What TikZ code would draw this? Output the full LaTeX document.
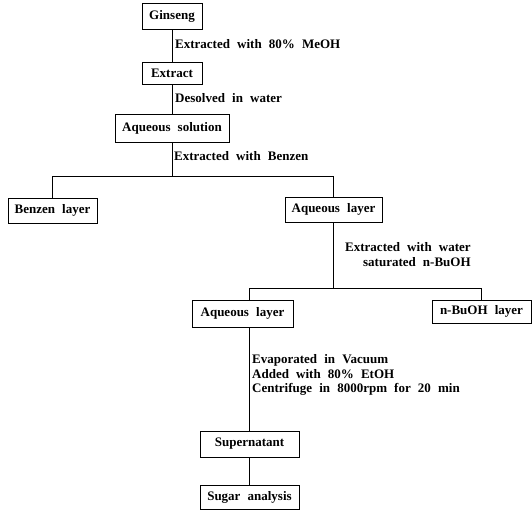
\documentclass[tikz,border=0pt]{standalone}
\usepackage{fontspec}
\setmainfont[WordSpace=2.2]{Liberation Serif}
\begin{document}
\begin{tikzpicture}[x=1pt,y=-1pt,
  txt/.style={font=\bfseries\fontsize{13}{14.5}\selectfont},
  box/.style={draw, line width=0.8pt, inner sep=0pt, txt},
  lbl/.style={inner sep=0pt, anchor=west, txt},
  conn/.style={line width=0.8pt}]
\useasboundingbox (0,0) rectangle (532,510);
\node[box, minimum width=60pt, minimum height=26pt] (gin) at (172,16) {Ginseng};
\node[box, minimum width=60pt, minimum height=22pt] (ext) at (172,73.5) {Extract};
\node[box, minimum width=114pt, minimum height=28pt] (aqs) at (172,128) {Aqueous solution};
\node[box, minimum width=89pt, minimum height=25pt] (ben) at (52.5,210.5) {Benzen layer};
\node[box, minimum width=97pt, minimum height=25pt] (aqa) at (333.5,209.5) {Aqueous layer};
\node[box, minimum width=101pt, minimum height=27pt] (aqb) at (242.5,313.5) {Aqueous layer};
\node[box, minimum width=99pt, minimum height=23pt] (bu) at (481.5,311.5) {n-BuOH layer};
\node[box, minimum width=99pt, minimum height=26pt] (sup) at (249.5,444) {Supernatant};
\node[box, minimum width=99pt, minimum height=24pt] (sug) at (249.5,497) {Sugar analysis};
\coordinate (sa) at (172,176);
\coordinate (sb) at (248,288);
\draw[conn] (gin) -- (ext);
\draw[conn] (ext) -- (aqs);
\draw[conn] (aqs.south) -- (sa);
\draw[conn] (ben.north) -- (ben.north |- sa) -- (aqa.north |- sa) -- (aqa.north);
\draw[conn] (aqa.south) -- (aqa.south |- sb);
\draw[conn] (aqb.north -| sup.north) -- (sup.north |- sb) -- (bu.north |- sb) -- (bu.north);
\draw[conn] (aqb.south -| sup.north) -- (sup.north);
\draw[conn] (sup) -- (sug);
\node[lbl] (la) at (175,44) {Extracted with 80\% MeOH};
\node[lbl] (lb) at (175,98) {Desolved in water};
\node[lbl] (lc) at (174,156) {Extracted with Benzen};
\node[lbl, align=right] (ld) at (345,254.5) {Extracted with water\\saturated n-BuOH};
\node[lbl, align=left] (le) at (252,375) {Evaporated in Vacuum\\Added with 80\% EtOH\\Centrifuge in 8000rpm for 20 min};
\end{tikzpicture}
\end{document}
